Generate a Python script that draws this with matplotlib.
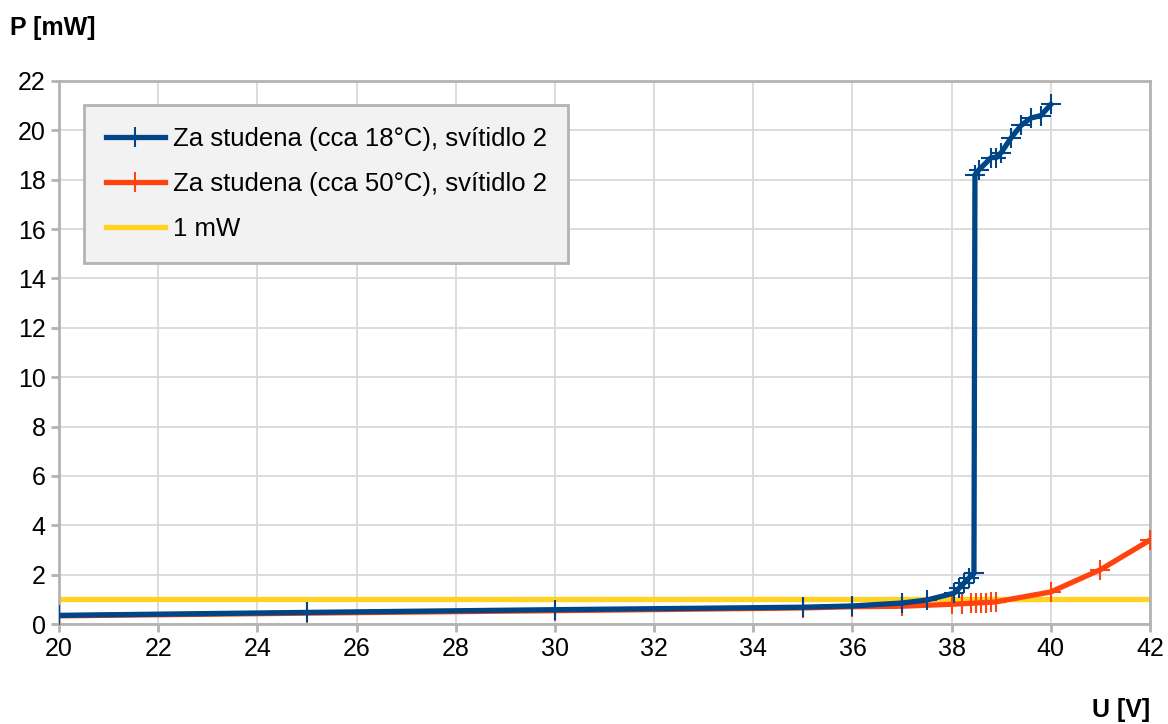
import matplotlib
matplotlib.use("Agg")
import matplotlib.pyplot as plt

plt.rcParams['font.family'] = ['Liberation Sans', 'DejaVu Sans']

# Za studena (cca 18 °C)
u_cold = [20, 25, 30, 35, 36, 37, 37.5, 38.05, 38.15, 38.25, 38.35, 38.45,
          38.47, 38.55, 38.8, 38.9, 39.0, 39.2, 39.4, 39.6, 39.8, 40.0]
p_cold = [0.35, 0.47, 0.58, 0.68, 0.73, 0.85, 0.97, 1.25, 1.45, 1.66, 1.86, 2.05,
          18.2, 18.4, 18.9, 18.9, 19.1, 19.7, 20.2, 20.5, 20.6, 21.05]

# Za studena (cca 50 °C)
u_warm = [20, 25, 30, 35, 36, 37, 38.0, 38.2, 38.4, 38.5, 38.6, 38.7, 38.8, 38.9,
          40, 41, 42]
p_warm = [0.33, 0.44, 0.54, 0.65, 0.7, 0.72, 0.8, 0.82, 0.84, 0.85, 0.86, 0.87,
          0.88, 0.9, 1.3, 2.2, 3.4]

limit_u = [20, 42]
limit_p = [1, 1]

fig = plt.figure(figsize=(11.68, 7.24), dpi=100)
ax = fig.add_axes([59 / 1168, 1 - 624 / 724, (1150 - 59) / 1168, (624 - 81) / 724])

ax.plot(limit_u, limit_p, color='#ffd320', lw=3.8, label='1 mW', zorder=2)
ax.plot(u_warm, p_warm, color='#ff420e', lw=3.8, marker='+', ms=15, mew=1.5,
        label='Za studena (cca 50°C), svítidlo 2', zorder=3)
ax.plot(u_cold, p_cold, color='#004586', lw=3.8, marker='+', ms=15, mew=1.5,
        label='Za studena (cca 18°C), svítidlo 2', zorder=4)

ax.set_xlim(20, 42)
ax.set_ylim(0, 22)
ax.set_xticks(range(20, 43, 2))
ax.set_yticks(range(0, 23, 2))
ax.grid(True, color='#d9d9d9', lw=1.3)
ax.set_axisbelow(True)
for s in ax.spines.values():
    s.set_color('#b3b3b3')
    s.set_linewidth(2)
ax.tick_params(colors='#b3b3b3', labelcolor='black', labelsize=18, width=2, length=6)

fig.text(10 / 1168, 1 - 28 / 724, 'P [mW]', fontsize=18, fontweight='bold', va='center', ha='left')
fig.text(1150 / 1168, 1 - 710 / 724, 'U [V]', fontsize=18, fontweight='bold', va='center', ha='right')

handles, labels = ax.get_legend_handles_labels()
order = [2, 1, 0]
leg = ax.legend([handles[i] for i in order], [labels[i] for i in order],
                loc='upper left', bbox_to_anchor=(25 / 1091, 1 - 24 / 543),
                fontsize=18.5, fancybox=False, framealpha=1, handlelength=2.3,
                handletextpad=0.3, borderpad=0.85, labelspacing=0.82,
                borderaxespad=0)
leg.get_frame().set_facecolor('#f2f2f2')
leg.get_frame().set_edgecolor('#b3b3b3')
leg.get_frame().set_linewidth(2)

fig.savefig('out.png', dpi=100)
